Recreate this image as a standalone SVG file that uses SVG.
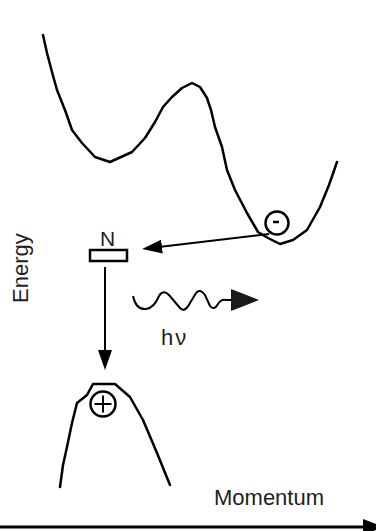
<svg xmlns="http://www.w3.org/2000/svg" width="376" height="531" viewBox="0 0 376 531">
<style>
.curve{fill:none;stroke:#000;stroke-width:2.5;stroke-linejoin:round;stroke-linecap:round}
.ln{fill:none;stroke:#000;stroke-width:2}
.lbl{font-family:"Liberation Sans",Arial,sans-serif;fill:#1e1e1e}
.head{fill:#000}
</style>
<defs>
<marker id="ah" viewBox="0 -7 20 14" refX="1" refY="0" markerWidth="20" markerHeight="14" markerUnits="userSpaceOnUse" orient="auto">
<path d="M0,-7 L20,0 L0,7 z" class="head"/>
</marker>
<marker id="ahPhoton" viewBox="0 -11 28 22" refX="1" refY="0" markerWidth="28" markerHeight="22" markerUnits="userSpaceOnUse" orient="auto">
<path d="M0,-11 L28,0 L0,11 z" fill="#1a1a1a"/>
</marker>
</defs>
<rect width="376" height="531" fill="#fff"/>
<g id="conduction-band">
<polyline class="curve" points="43,35 47,53 52,72 57,90 65,110 72,130 82,143 95,157 110,162 132,152 145,138 155,122 163,107 172,97 182,88 192,83 200,87 207,98 211,110 215,127 222,147 227,170 235,190 247,213 258,232 268,238 280,244 293,240 307,230 320,207 329,185 337,162"/>
</g>
<g id="electron">
<circle cx="277" cy="223" r="11.5" fill="none" stroke="#000" stroke-width="2.5"/>
<line x1="273" y1="222" x2="279" y2="222" stroke="#000" stroke-width="2.5"/>
</g>
<g id="n-level">
<rect x="90" y="250" width="37" height="11" fill="#fff" stroke="#000" stroke-width="2.5"/>
<text class="lbl" x="107.5" y="245.5" font-size="21" text-anchor="middle">N</text>
</g>
<g id="valence-band">
<polyline class="curve" points="60,487 63,465 67,447 72,423 77,403 87,395 93,384 115,384 130,397 143,420 157,453 170,485"/>
</g>
<g id="hole">
<circle cx="103" cy="404" r="12.5" fill="#fff" stroke="#000" stroke-width="2.5"/>
<line x1="94.5" y1="404" x2="111.5" y2="404" stroke="#000" stroke-width="2"/>
<line x1="103" y1="395.5" x2="103" y2="412.5" stroke="#000" stroke-width="2"/>
</g>
<g id="labels">
<text class="lbl" font-size="22" transform="translate(28,303) rotate(-90)">Energy</text>
<text class="lbl" x="161" y="345" font-size="22" letter-spacing="2">hν</text>
<text class="lbl" x="214" y="505" font-size="22">Momentum</text>
</g>
<g id="connectors">
<line class="ln" x1="269" y1="234" x2="161" y2="246.7" marker-end="url(#ah)"/>
<line class="ln" x1="105" y1="267" x2="105" y2="351" marker-end="url(#ah)"/>
<path class="ln" d="M133,296 Q136,310 146,309 Q154,308 159,296 Q163,289 169,295 L180,308 Q185,313 190,303 L196,293 Q200,288 205,295 L210,306 Q214,311 218,304 Q221,299 226,300 L232,300" stroke-width="2.3" marker-end="url(#ahPhoton)"/>
<line x1="0" y1="527" x2="364" y2="527" stroke="#000" stroke-width="3"/>
<polygon class="head" points="363,519 384,527 363,535"/>
</g>
</svg>
